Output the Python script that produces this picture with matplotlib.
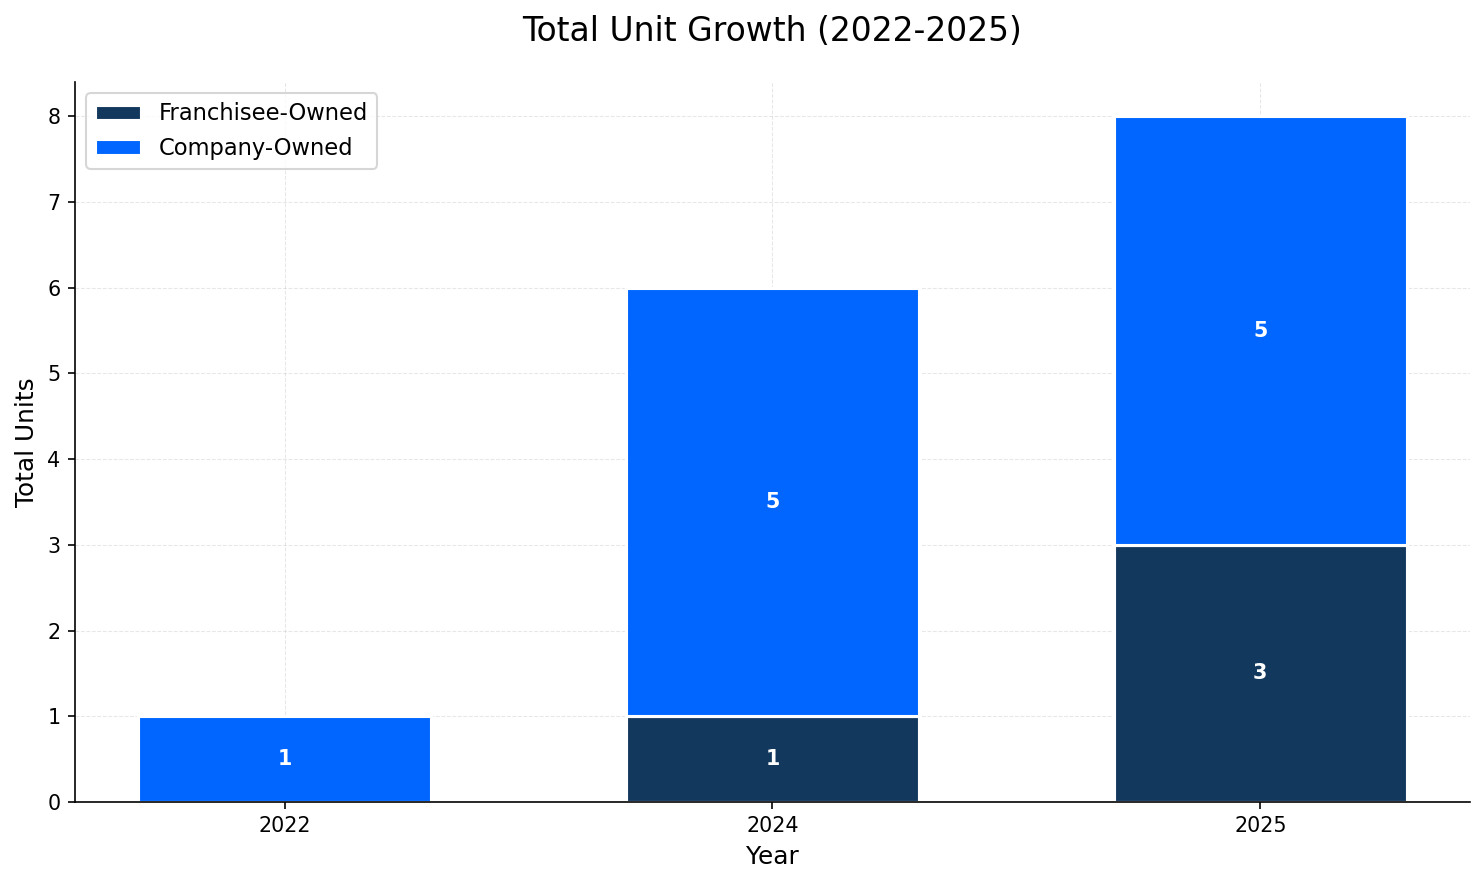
import matplotlib
matplotlib.use("Agg")
import matplotlib.pyplot as plt
import numpy as np

# Data
YEARS = ["2022", "2024", "2025"]
FRANCHISEE = [0, 1, 3]
COMPANY = [1, 5, 5]

COLOR_FRAN = "#13385E"
COLOR_COMP = "#0066FF"

DPI = 148.4


def main():
    fig, ax = plt.subplots(figsize=(1484 / DPI, 884 / DPI), dpi=DPI)
    x = np.arange(len(YEARS))

    fran = ax.bar(x, FRANCHISEE, width=0.6, color=COLOR_FRAN,
                  edgecolor="white", linewidth=1.5, label="Franchisee-Owned", zorder=2)
    comp = ax.bar(x, COMPANY, width=0.6, bottom=FRANCHISEE, color=COLOR_COMP,
                  edgecolor="white", linewidth=1.5, label="Company-Owned", zorder=2)

    for bars, vals, bottoms in ((fran, FRANCHISEE, [0] * len(YEARS)),
                                (comp, COMPANY, FRANCHISEE)):
        for b, v, bt in zip(bars, vals, bottoms):
            if v > 0:
                ax.text(b.get_x() + b.get_width() / 2, bt + v / 2, str(v),
                        ha="center", va="center", color="white",
                        fontsize=10, fontweight="bold", zorder=3)

    ax.set_xticks(x)
    ax.set_xticklabels(YEARS)
    ax.set_title("Total Unit Growth (2022-2025)", fontsize=16, pad=20)
    ax.set_xlabel("Year", fontsize=12)
    ax.set_ylabel("Total Units", fontsize=12)
    ax.grid(True, linestyle="--", linewidth=0.5, alpha=0.3, zorder=0)
    ax.set_axisbelow(True)
    ax.spines["top"].set_visible(False)
    ax.spines["right"].set_visible(False)
    ax.legend(loc="upper left", fontsize=11)

    fig.subplots_adjust(left=0.0505, right=0.9906, bottom=0.0928, top=0.9072)
    plt.savefig("out.png", dpi=DPI)


if __name__ == "__main__":
    main()
